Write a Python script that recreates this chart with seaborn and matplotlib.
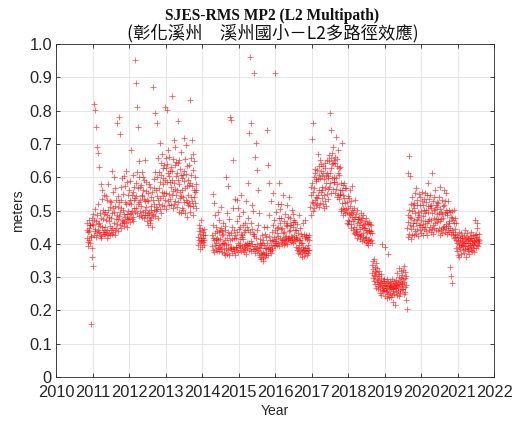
#!/usr/bin/env python3
"""SJES-RMS MP2 (L2 multipath) time series, MATLAB-like scatter of '+' markers."""

import numpy as np
import pandas as pd
import seaborn as sns
import matplotlib.pyplot as plt

STEP_DAYS = 3  # spacing of the sampled daily values

# Each segment: start (decimal year) and MP2 values in millimetres
seg_2010_start = 2010.84
seg_2010 = """
441 418 462 407 436 395 473 447 411 439 458 402 456 421 160 425 459 387 478 362
332 457 491 428 820 472 439 803 445 506 421 750 468 433 691 487 442 672 519 461
463 437 632 492 428 455 581 423 479 418 536 452 562 437 501 474 429 443 548 491
452 496 429 471 545 437 418 533 486 441 503 427 579 482 434 468 529 453 428 511
478 442 527 431 619 493 448 556 436 509 462 601 495 441 567 428 513 474 447 532
486 461 763 512 474 545 438 781 483 525 457 729 496 448 572 509 532 463 598 471
502 468 551 467 603 489 453 574 482 527 463 618 521 476 452 585 491 498 546 474
523 477 561 489 532 466 588 493 519 682 474 547 498 606 482 557 469 533 508 571
538 954 497 582 509 883 543 616 812 494 568 519 751 483 602 527 648 498 571 532
514 576 488 543 617 482 548 601 497 561 479 536 592 503 529 653 486 558 511 587
487 532 468 554 493 456 529 482 581 497 472 571 463 514 542 478 503 451 556 489
532 487 871 568 503 596 519 792 485 617 511 563 498 762 544 601 506 657 532 478
568 521 617 504 586 702 539 643 492 608 556 671 518 581 627 543 599 514 636 552
593 531 812 629 552 658 504 803 587 641 528 613 681 549 604 517 662 585 536 619
571 518 632 546 843 593 619 507 654 558 712 584 521 636 565 692 529 603 548 647
562 613 511 644 527 592 768 496 581 653 538 625 557 492 608 545 676 563 509 597
541 607 503 619 718 526 588 654 492 567 698 531 609 482 573 526 634 548 592 517
578 522 636 497 831 583 514 659 541 607 712 528 574 669 515 622 487 563 648 542
556 601 524 579 507 562
"""

seg_2013_start = 2013.89
seg_2013 = """
422 397 438 411 456 402 431 386 447 418 409 472 413 441 392 428 405 436 419 398
444 412 427
"""

seg_2014_start = 2014.27
seg_2014 = """
428 393 551 417 382 456 411 524 376 432 397 487 414 385 451 402 419 438 379 495
412 387 436 398 471 379 443 415 391 512 384 448 399 427 376 439 404 463 431 388
403 374 441 412 366 453 385 602 398 419 371 494 573 382 437 401 368 428 476 389
411 782 384 433 392 771 451 373 416 652 389 507 378 419 441 386 368 534 427 392
418 391 532 436 383 469 402 509 377 444 398 485 415 387 452 396 431 379 547 428
421 393 456 382 414 497 391 375 436 462 401 384 443 397 529 371 452 403 388 478
397 441 583 404 382 732 435 961 393 763 462 408 379 517 401 446 386 431 498 423
386 431 913 395 374 662 417 388 702 441 378 623 399 562 382 456 391 368 494 403
389 361 416 372 398 354 403 427 369 358 412 376 349 451 371 397 362 388 431 366
388 422 374 742 403 451 637 385 366 424 583 392 488 379 411 386 372 529 397 383
411 436 388 457 409 552 396 473 421 912 408 442 393 497 416 402 449 398 434 521
423 451 402 477 583 395 462 418 506 521 406 444 478 411 449 401 547 416 433 398
437 411 468 422 403 489 458 424 409 453 516 401 462 417 481 414 438 542 419 456
441 413 477 424 406 458 502 421 412 465 491 404 452 427 473 416 441 409 467 422
418 392 442 381 414 461 388 373 433 487 398 379 411 448 371 412 429 384 403 362
403 376 424 382 462 391 364 431 383 418 471 372 389 426 378 421 387 368 416 381
398 422 374 413 381 427
"""

seg_2017_start = 2016.97
seg_2017 = """
512 548 487 571 714 526 583 498 557 762 522 601 509 568 626 531 613 517 594 542
588 537 622 521 594 671 546 633 512 607 563 652 599 524 618 556 641 538 603 571
562 613 521 634 547 596 508 627 569 642 528 606 513 583 651 549 612 535 598 564
603 648 571 667 612 792 584 657 628 552 741 639 598 674 566 643 691 587 652 601
587 644 553 661 598 721 566 633 542 654 581 682 614 548 629 536 607 563 632 551
547 506 582 498 561 702 523 508 576 487 548 583 502 539 567 493 524 568 506
"""

seg_2018_start = 2017.96
seg_2018 = """
497 462 526 473 508 544 459 491 537 468 562 486 513 461 529 494 448 482 573 501
468 442 497 433 476 508 451 429 482 531 446 437 491 418 463 502 439 474 427 476
458 431 482 423 467 446 415 471 494 428 452 409 479 433 457 421 486 448 412 461
447 418 469 406 442 478 421 402 463 437 411 459 396 438 467 416 443 408 461 432
439 411 456 403 434
"""

seg_2019_start = 2018.66
seg_2019 = """
337 312 348 296 324 305 356 288 318 331 279 302 341 267 315 293 326 284 308 272
291 264 302 278 317 253 286 271 309 246 283 297 262 275 401 258 289 267 294 273
261 287 243 276 392 259 281 268 236 293 254 272 248 284 371 263 277 241 269 288
274 252 283 239 267 295 246 271 258 224 279 263 287 248 272 217 266 281 254 276
268 291 247 276 312 258 284 269 301 243 278 326 262 289 251 317 273 296 264 282
307 279 321 263 294 332 286 248 314 271 298 256 303 277 231 204
"""

seg_2020_start = 2019.62
seg_2020 = """
447 488 612 422 466 503 663 431 482 604 458 416 521 445 477 542 428 499 453 516
462 507 428 524 471 553 439 492 463 568 431 517 476 532 444 496 423 481 549 458
488 442 516 457 541 433 498 473 557 452 529 484 427 518 461 535 446 502 469 553
493 452 527 438 501 546 462 428 513 469 582 497 442 534 476 515 451 548 437 509
472 518 446 613 493 457 529 431 502 478 542 447 506 463 561 474 518 442 491 526
467 511 438 523 476 448 541 493 427 506 468 572 441 497 474 532 433 489 452 515
478 446 517 453 561 492 437 529 461 503 448 552 486 429 497 455 528 442 501 469
463 437 496 331 448 482 302 431 479 281 442 498 426 471 437 503 418 464 429 477
445 421 462
"""

seg_2021_start = 2020.96
seg_2021 = """
412 389 426 378 403 421 367 408 437 392 401 362 418 384 411 432 396 371 405 423
398 417 381 409 393 428 372 402 441 386 414 395 422 361 404 433 389 411 378 419
402 386 415 394 371 423 398 409 382 417 436 392 404 378 413 389 427 401 376 409
418 396 427 472 405 388 431 412 463 397 421 449 408 416 393 429 411 402
"""

SEGMENTS = [
    (seg_2010_start, seg_2010), (seg_2013_start, seg_2013),
    (seg_2014_start, seg_2014), (seg_2017_start, seg_2017),
    (seg_2018_start, seg_2018), (seg_2019_start, seg_2019),
    (seg_2020_start, seg_2020), (seg_2021_start, seg_2021),
]

YEAR_TICKS = list(range(2010, 2023))
Y_TICKS = [round(0.1 * i, 1) for i in range(11)]
Y_TICK_LABELS = ["0"] + [f"{v:.1f}" for v in Y_TICKS[1:]]

TITLE = "SJES-RMS MP2 (L2 Multipath)"
SUBTITLE = "(彰化溪州\u3000溪州國小－L2多路徑效應)"


def build_frame():
    parts = []
    for start, text in SEGMENTS:
        vals = np.array([int(v) for v in text.split()]) / 1000.0
        yrs = start + np.arange(len(vals)) * STEP_DAYS / 365.25
        parts.append(pd.DataFrame({"year": yrs, "mp2": vals}))
    return pd.concat(parts, ignore_index=True)


def main():
    df = build_frame()

    sns.set_style("ticks")
    plt.rcParams["font.family"] = ["Liberation Sans", "DejaVu Sans"]
    fig = plt.figure(figsize=(5.19, 4.25), dpi=100)
    ax = fig.add_axes([0.108, 0.113, 0.844, 0.783])

    sns.scatterplot(data=df, x="year", y="mp2", marker="+", color="red",
                    edgecolor="red", s=22, linewidth=0.55, alpha=0.7,
                    ax=ax, legend=False, zorder=3)

    ax.set_xlim(2010, 2022)
    ax.set_ylim(0, 1.0)
    ax.set_xticks(YEAR_TICKS)
    ax.set_xticklabels([str(y) for y in YEAR_TICKS])
    ax.set_yticks(Y_TICKS)
    ax.set_yticklabels(Y_TICK_LABELS)
    ax.grid(True, color="#e2e2e2", linewidth=0.6, zorder=0)
    ax.tick_params(direction="in", top=True, right=True, length=3,
                   width=0.6, colors="#262626", labelsize=11.8)
    ax.tick_params(axis="x", pad=6)
    ax.tick_params(axis="y", pad=3)
    for sp in ax.spines.values():
        sp.set_visible(True)
        sp.set_color("#262626")
        sp.set_linewidth(0.6)

    ax.set_xlabel("Year", fontsize=10, color="#262626", labelpad=3)
    ax.set_ylabel("meters", fontsize=10, color="#262626", labelpad=3)

    fig.text(0.525, 0.963, TITLE, ha="center", va="center", fontsize=11.2,
             fontweight="bold", family=["Liberation Serif", "DejaVu Serif"], color="#111111")
    fig.text(0.525, 0.921, SUBTITLE, ha="center", va="center", fontsize=12.5,
             family=["Noto Sans CJK TC", "DejaVu Sans"], color="#111111")

    fig.savefig("out.png", dpi=100)
    plt.close(fig)


if __name__ == "__main__":
    main()
